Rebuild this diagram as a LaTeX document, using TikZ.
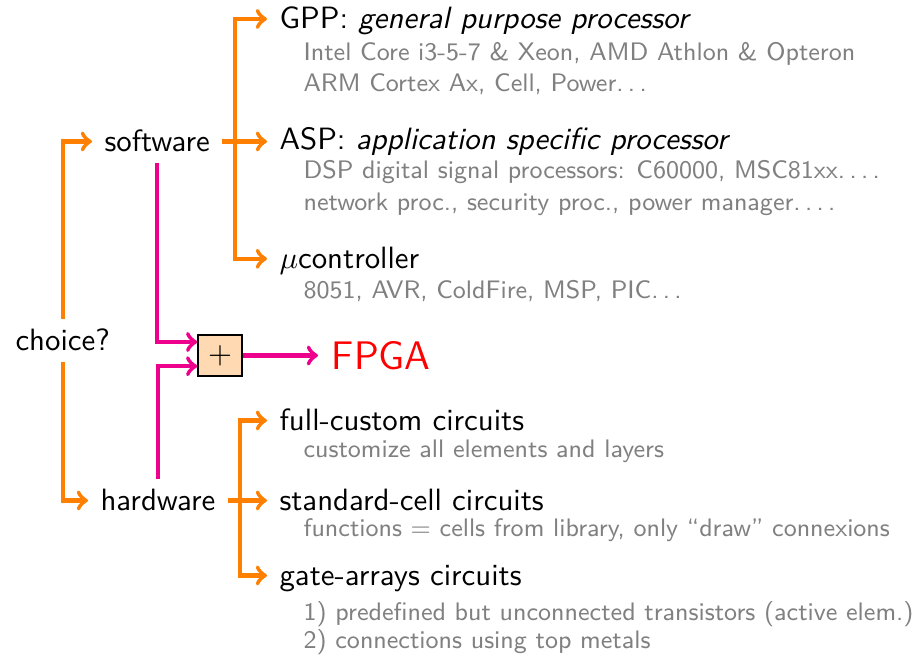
\documentclass[tikz,border=0pt]{standalone}
\usetikzlibrary{calc}

\definecolor{branch}{rgb}{1,0.5,0}
\definecolor{merge}{cmyk}{0,1,0,0}
\definecolor{note}{gray}{0.5}

% spaced dots, as in the classic text ellipsis
\newcommand\spdots{.\kern\fontdimen3\font.\kern\fontdimen3\font.\kern\fontdimen3\font}

\tikzset{
  x=0.3553pt, y=-0.3553pt,
  mainlbl/.style={anchor=base west, inner xsep=4.26pt, inner ysep=3.55pt,
    text height=7.25pt, text depth=0.48pt,
    font=\fontsize{10.95}{13}\selectfont\sffamily},
  sublbl/.style={anchor=base west, inner sep=0pt, text=note,
    font=\fontsize{9}{11}\selectfont\sffamily},
  tree/.style={draw=branch, line width=1.53pt, ->},
  treeboth/.style={draw=branch, line width=1.53pt, <->},
  fuse/.style={draw=merge, line width=1.53pt, ->},
  adder/.style={draw=black, line width=0.76pt, fill=branch!30,
    minimum width=15.4pt, minimum height=14.4pt, inner sep=0pt,
    font=\fontsize{10.95}{13}\selectfont}
}

\begin{document}
\begin{tikzpicture}
\useasboundingbox (0,0) rectangle (917,657);

% root and the two families
\node[mainlbl] (choice) at (3,350) {choice?};
\node[mainlbl] (software) at (92,151) {software};
\node[mainlbl] (hardware) at (88,510) {hardware};

% software branch
\node[mainlbl] (gpp) at (267,28.5) {GPP: \textit{general purpose processor}};
\node[sublbl] (gpp1) at (303,61) {Intel Core i3-5-7 \& Xeon, AMD Athlon \& Opteron};
\node[sublbl] (gpp2) at (303,91.7) {ARM Cortex Ax, Cell, Power\spdots};

\node[mainlbl] (asp) at (267,149) {ASP: \textit{application specific processor}};
\node[sublbl] (asp1) at (303,178.5) {DSP digital signal processors: C60000, MSC81xx\spdots.};
\node[sublbl] (asp2) at (303,210) {network proc., security proc., power manager\spdots.};

\node[mainlbl] (mu) at (267,268.3) {$\mu$controller};
\node[sublbl] (mu1) at (303,298.5) {8051, AVR, ColdFire, MSP, PIC\spdots};

% hardware branch
\node[mainlbl] (fc) at (267,430) {full-custom circuits};
\node[sublbl] (fc1) at (303,457.7) {customize all elements and layers};

\node[mainlbl] (sc) at (267,510) {standard-cell circuits};
\node[sublbl] (sc1) at (303,536.7) {functions $=$ cells from library, only ``draw'' connexions};

\node[mainlbl] (ga) at (267,585) {gate-arrays circuits};
\node[sublbl] (ga1) at (303,620) {1) predefined but unconnected transistors (active elem.)};
\node[sublbl] (ga2) at (303,648.3) {2) connections using top metals};

% the mixed solution
\node[adder] (plus) at (220,355.5) {$+$};
\node[anchor=west, inner xsep=4.77pt, text=red,
      font=\fontsize{14.15}{17}\selectfont\sffamily] (fpga) at (318,355.5) {FPGA};

% vertical bus positions
\coordinate (swbar) at (235,0);
\coordinate (hwbar) at (240,0);

% root to families
\draw[tree] (choice.north) |- (software.west);
\draw[tree] (choice.south) |- (hardware.west);

% software choices
\draw[treeboth] (gpp.west) -| (swbar |- mu.west) -- (mu.west);
\draw[tree] (software.east) -- (software.east -| asp.west);

% hardware choices
\draw[treeboth] (fc.west) -| (hwbar |- ga.west) -- (ga.west);
\draw[tree] (hardware.east) -- (hardware.east -| sc.west);

% both families meet in the FPGA
\draw[fuse] (software.south) |- ([yshift=4.8pt]plus.west);
\draw[fuse] (hardware.north) |- ([yshift=-3.8pt]plus.west);
\draw[fuse] (plus.east) -- (fpga.west);
\end{tikzpicture}
\end{document}
